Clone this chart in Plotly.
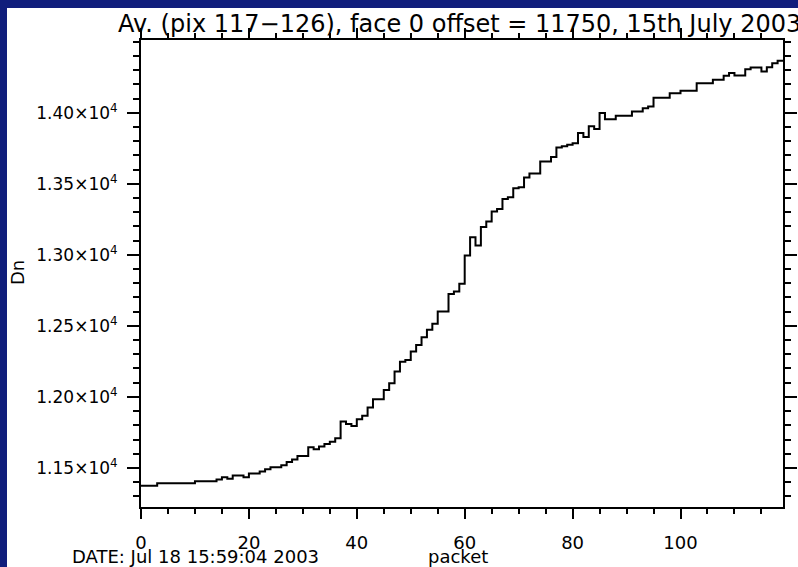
import plotly.graph_objects as go

# Averaged detector counts per packet
packet = list(range(120))
dn = [
    11375, 11375, 11375, 11392, 11392, 11392, 11392, 11392, 11392, 11392,
    11406, 11406, 11406, 11406, 11418, 11434, 11423, 11446, 11446, 11434,
    11460, 11460, 11474, 11491, 11505, 11505, 11519, 11542, 11559, 11584,
    11584, 11646, 11632, 11650, 11669, 11685, 11709, 11826, 11810, 11796,
    11843, 11868, 11925, 11984, 11984, 12049, 12096, 12178, 12248, 12260,
    12319, 12366, 12420, 12472, 12514, 12601, 12601, 12725, 12741, 12796,
    12995, 13124, 13065, 13195, 13234, 13305, 13322, 13392, 13406, 13469,
    13476, 13544, 13572, 13572, 13657, 13657, 13688, 13755, 13765, 13775,
    13786, 13857, 13830, 13905, 13885, 13998, 13955, 13955, 13978, 13978,
    13978, 14009, 14009, 14032, 14044, 14105, 14105, 14105, 14138, 14138,
    14154, 14154, 14154, 14208, 14208, 14208, 14232, 14232, 14260, 14279,
    14262, 14262, 14307, 14318, 14318, 14290, 14320, 14349, 14366, 14366,
]

x_ticks = [0, 20, 40, 60, 80, 100]
y_ticks = [11500, 12000, 12500, 13000, 13500, 14000]
y_tick_text = ["1.15×10<sup>4</sup>", "1.20×10<sup>4</sup>", "1.25×10<sup>4</sup>",
               "1.30×10<sup>4</sup>", "1.35×10<sup>4</sup>", "1.40×10<sup>4</sup>"]

title_text = "Av. (pix 117−126), face 0 offset = 11750, 15th July 2003"
date_text = "DATE: Jul 18 15:59:04 2003"

W, H = 798, 567
L, R, T, B = 141, 15, 40, 60
PW, PH = W - L - R, H - T - B
FONT = "DejaVu Sans"
NAVY = "#101e7c"


def px_x(px):
    return (px - L) / PW


def px_y(py):
    return 1 + (T - py) / PH


fig = go.Figure()
fig.add_trace(go.Scatter(
    x=packet, y=dn, mode="lines",
    line=dict(color="black", width=2, shape="hv"),
    showlegend=False, hoverinfo="skip", cliponaxis=False,
))

axis_common = dict(
    showline=True, linecolor="black", linewidth=2, mirror="allticks",
    ticks="outside", ticklen=10, tickwidth=2, tickcolor="black",
    showgrid=False, zeroline=False, automargin=False,
    tickfont=dict(family=FONT, size=18, color="black"),
)

fig.update_xaxes(
    range=[0, 119], tickmode="array", tickvals=x_ticks,
    ticktext=[str(v) for v in x_ticks],
    minor=dict(dtick=5, tick0=0, ticks="outside", ticklen=5, tickwidth=2, tickcolor="black"),
    ticklabelstandoff=8,
    **axis_common,
)
fig.update_yaxes(
    range=[11225, 14512], tickmode="array", tickvals=y_ticks, ticktext=y_tick_text,
    minor=dict(dtick=100, tick0=0, ticks="outside", ticklen=6, tickwidth=2, tickcolor="black"),
    ticklabelstandoff=6,
    **{**axis_common, "ticklen": 12, "tickfont": dict(family=FONT, size=17, color="black")},
)

# Navy frame along the top and left edges of the page
fig.add_shape(type="rect", xref="paper", yref="paper",
              x0=px_x(0), x1=px_x(W), y0=px_y(8), y1=px_y(0),
              fillcolor=NAVY, line=dict(width=0), layer="above")
fig.add_shape(type="rect", xref="paper", yref="paper",
              x0=px_x(0), x1=px_x(7), y0=px_y(H), y1=px_y(0),
              fillcolor=NAVY, line=dict(width=0), layer="above")

annotations = [
    dict(text=title_text, x=px_x(459), y=px_y(24), xanchor="center", yanchor="middle",
         font=dict(family=FONT, size=24, color="black")),
    dict(text=date_text, x=px_x(195), y=px_y(556), xanchor="center", yanchor="middle",
         font=dict(family=FONT, size=18, color="black")),
    dict(text="packet", x=px_x(458), y=px_y(556), xanchor="center", yanchor="middle",
         font=dict(family=FONT, size=18, color="black")),
    dict(text="Dn", x=px_x(17), y=px_y(273), xanchor="center", yanchor="middle",
         textangle=-90, font=dict(family=FONT, size=18, color="black")),
]
for a in annotations:
    fig.add_annotation(xref="paper", yref="paper", showarrow=False, **a)

fig.update_layout(
    width=W, height=H,
    margin=dict(l=L, r=R, t=T, b=B, pad=0, autoexpand=False),
    paper_bgcolor="white", plot_bgcolor="white",
)

fig.write_html("out.html")
